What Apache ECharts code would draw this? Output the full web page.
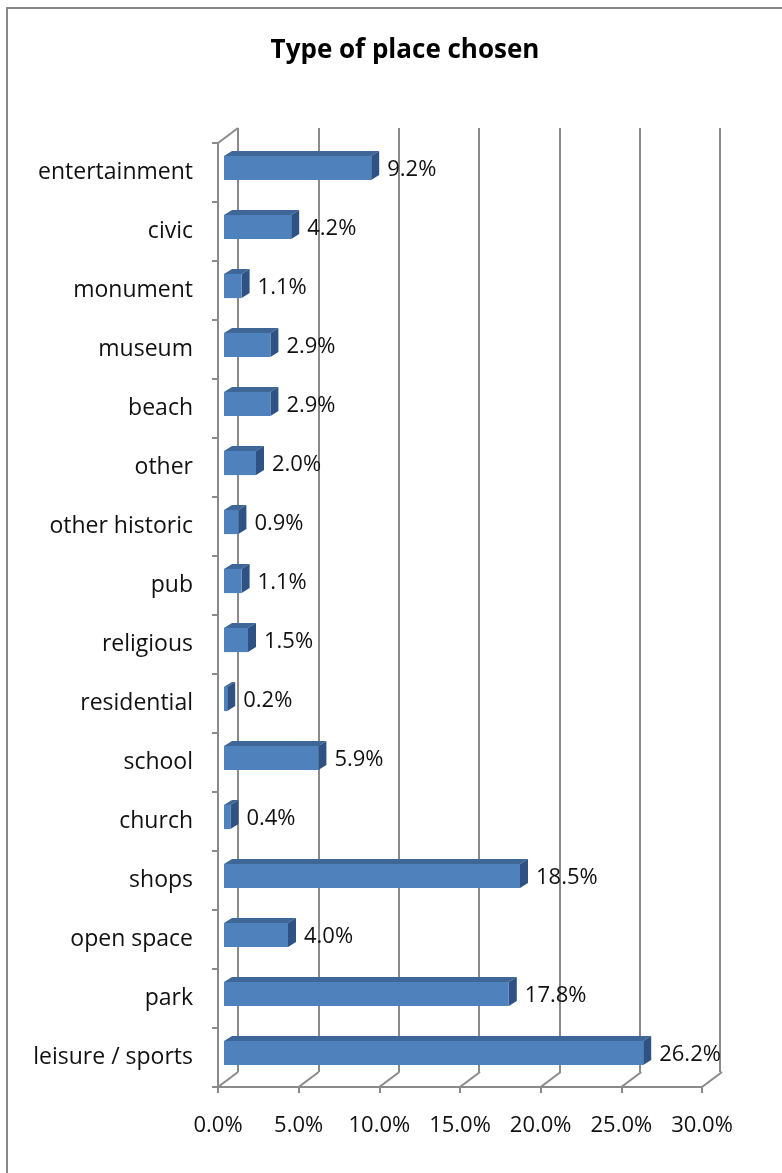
<!DOCTYPE html>
<html><head><meta charset="utf-8">
<script src="https://cdn.jsdelivr.net/npm/echarts@6/dist/echarts.min.js"></script>
<style>html,body{margin:0;padding:0;background:#fff}#c{width:782px;height:1173px}</style>
</head><body><div id="c"></div>
<script>
const categories = ['entertainment','civic','monument','museum','beach','other','other historic','pub','religious','residential','school','church','shops','open space','park','leisure / sports'];
const values = [9.2, 4.2, 1.1, 2.9, 2.9, 2.0, 0.9, 1.1, 1.5, 0.2, 5.9, 0.4, 18.5, 4.0, 17.8, 26.2];
const xTicks = [0, 5, 10, 15, 20, 25, 30];
const titleText = 'Type of place chosen';

const FONT = '"Open Sans", "Noto Sans", sans-serif';
const GRID_C = '#8a8a8a';
const chart = echarts.init(document.getElementById('c'), null, {renderer: 'canvas'});
const DX = 8, DY = -5;

chart.setOption({
  animation: false,
  backgroundColor: '#fff',
  title: {text: titleText, left: 400, top: 33, textAlign: 'center',
    textStyle: {fontFamily: FONT, fontSize: 26, fontWeight: 'bold', color: '#000'}},
  graphic: [{type: 'rect', shape: {x: 7, y: 8, width: 900, height: 1300},
    style: {fill: 'none', stroke: '#888', lineWidth: 2}, silent: true}],
  grid: [
    {left: 238, right: 62, top: 128, bottom: 101},
    {left: 218, right: 80, top: 143, bottom: 86},
    {left: 224, right: 78, top: 138.5, bottom: 90.5}
  ],
  xAxis: [
    {gridIndex: 0, type: 'value', min: 0, max: 30, interval: 5,
      axisLine: {show: false}, axisTick: {show: false}, axisLabel: {show: false},
      splitLine: {show: true, lineStyle: {color: GRID_C, width: 2}}},
    {gridIndex: 1, type: 'value', min: 0, max: 30, interval: 5,
      axisLine: {show: true, lineStyle: {color: GRID_C, width: 2}},
      axisTick: {show: true, length: 6, lineStyle: {color: GRID_C, width: 2}},
      splitLine: {show: false},
      axisLabel: {margin: 28, fontFamily: FONT, fontSize: 22, color: '#111',
        formatter: v => v.toFixed(1) + '%'}},
    {gridIndex: 2, type: 'value', min: 0, max: 30, show: false}
  ],
  yAxis: [
    {gridIndex: 0, type: 'category', data: categories, inverse: true, show: false},
    {gridIndex: 1, type: 'category', data: categories, inverse: true,
      axisLine: {show: true, lineStyle: {color: GRID_C, width: 2}},
      axisTick: {show: true, length: 6, lineStyle: {color: GRID_C, width: 2}},
      axisLabel: {margin: 25, fontFamily: FONT, fontSize: 23, color: '#111', padding: [4, 0, 0, 0]}},
    {gridIndex: 2, type: 'category', data: categories, inverse: true, show: false}
  ],
  series: [
    {
      type: 'custom', xAxisIndex: 1, yAxisIndex: 1, silent: true,
      data: xTicks.map(v => [v, categories[0]]),
      encode: {x: 0, y: 1},
      renderItem: function (params, api) {
        const cs = params.coordSys;
        const v = api.value(0);
        const x = api.coord([v, categories[0]])[0];
        const yb = cs.y + cs.height;
        const kids = [{type: 'line', shape: {x1: x, y1: yb, x2: x + 20, y2: yb - 15},
          style: {stroke: GRID_C, lineWidth: 2}}];
        if (v === 0) {
          kids.push({type: 'line', shape: {x1: x, y1: cs.y, x2: x + 20, y2: cs.y - 15},
            style: {stroke: GRID_C, lineWidth: 2}});
        }
        return {type: 'group', children: kids};
      }
    },
    {
      type: 'custom', xAxisIndex: 2, yAxisIndex: 2, silent: true,
      data: values.map((v, i) => [v, categories[i]]),
      encode: {x: 0, y: 1},
      renderItem: function (params, api) {
        const v = api.value(0);
        const cat = categories[params.dataIndex];
        const p0 = api.coord([0, cat]);
        const p1 = api.coord([v, cat]);
        const band = api.size([0, 1])[1];
        const h = band * 0.41;
        const x0 = p0[0], x1 = p1[0], yc = p0[1];
        const yT = yc - h / 2, yB = yc + h / 2;
        return {type: 'group', children: [
          {type: 'polygon', shape: {points: [[x0, yT], [x0 + DX, yT + DY], [x1 + DX, yT + DY], [x1, yT]]},
            style: {fill: '#3e6797'}},
          {type: 'polygon', shape: {points: [[x1, yT], [x1 + DX, yT + DY], [x1 + DX, yB + DY], [x1, yB]]},
            style: {fill: '#2e5284'}},
          {type: 'rect', shape: {x: x0, y: yT, width: x1 - x0, height: h},
            style: {fill: '#4f81bd'}},
          {type: 'text', x: x1 + DX + 8, y: yc + 2,
            style: {text: v.toFixed(1) + '%', fontFamily: FONT, fontSize: 22, fill: '#111',
              verticalAlign: 'middle', align: 'left'}}
        ]};
      }
    }
  ]
});
</script></body></html>
